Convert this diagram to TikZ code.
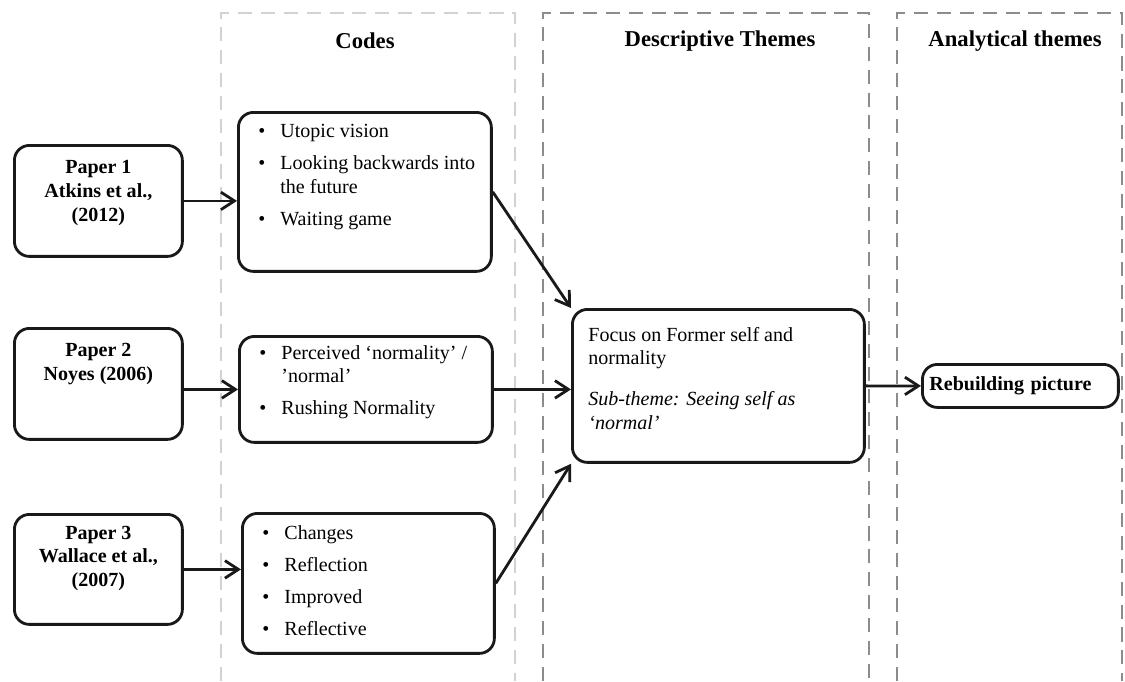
\documentclass[tikz,border=0pt]{standalone}
\usepackage{fontspec}
\setmainfont{Liberation Serif}
\usetikzlibrary{arrows.meta}

\newenvironment{codelist}{\begin{list}{\textbullet}{%
  \setlength{\leftmargin}{0.84cm}\setlength{\labelsep}{0.3cm}%
  \setlength{\labelwidth}{0.54cm}\setlength{\itemsep}{4.5pt}%
  \setlength{\topsep}{0pt}\setlength{\partopsep}{0pt}\setlength{\parsep}{0pt}%
  \setlength{\itemindent}{0pt}\setlength{\rightmargin}{0pt}}}{\end{list}}
\newcommand{\boxtext}[3]{\parbox[c][#2][t]{#1}{#3}}

\begin{document}
\begin{tikzpicture}[x=0.02cm,y=-0.02cm,
  font=\fontsize{11.4}{13.6}\selectfont,
  every node/.style={inner sep=0pt},
  rbox/.style={draw=black!90, line width=1.6pt, rounded corners=0.3cm, anchor=north west},
  col/.style={line width=1.3pt, dash pattern=on 8pt off 5pt},
  link/.style={draw=black!90, line width=1.6pt, -{Straight Barb[length=2.7mm,width=3.5mm]}},
  title/.style={font=\fontsize{12.9}{15}\selectfont\bfseries}]
\useasboundingbox (0,0) rectangle (1125,681);

\draw[col, draw=gray!35] (221,681) -- (221,13) -- (515,13) -- (515,681);
\draw[col, draw=black!45] (543,681) -- (543,13) -- (869,13) -- (869,681);
\draw[col, draw=black!45] (897,681) -- (897,13) -- (1122,13) -- (1122,681);

\node[title] (codesT) at (365,41) {Codes};
\node[title] (descT) at (720,41) {Descriptive Themes};
\node[title] (analT) at (1015,41) {Analytical themes};

\node[rbox] (p1) at (13,144) {\boxtext{3.36cm}{2.22cm}{\centering\bfseries\vspace*{8.5pt}Paper 1\\ Atkins et al.,\\ (2012)}};
\node[rbox] (p2) at (13,327) {\boxtext{3.36cm}{2.22cm}{\centering\bfseries\vspace*{8.5pt}Paper 2\\ Noyes (2006)}};
\node[rbox] (p3) at (13,513) {\boxtext{3.36cm}{2.2cm}{\centering\bfseries\vspace*{6.5pt}Paper 3\\ Wallace et al.,\\ (2007)}};

\node[rbox] (c1) at (237,111) {\boxtext{5.06cm}{3.18cm}{\raggedright\vspace*{7pt}\begin{codelist}
  \item Utopic vision
  \item Looking backwards into\newline the future
  \item Waiting game
\end{codelist}}};
\node[rbox] (c2) at (238,335) {\boxtext{5.06cm}{2.12cm}{\raggedright\vspace*{5pt}\begin{codelist}
  \item Perceived `normality' /\newline 'normal'
  \item Rushing Normality
\end{codelist}}};
\node[rbox] (c3) at (241,512) {\boxtext{5.04cm}{2.8cm}{\raggedright\vspace*{7pt}\begin{codelist}
  \item Changes
  \item Reflection
  \item Improved
  \item Reflective
\end{codelist}}};

\node[rbox] (th) at (571,308) {\boxtext{5.84cm}{3.06cm}{\raggedright\leftskip=0.32cm\vspace*{10pt}Focus on Former self and\newline normality\par
  \vspace{9.7pt}\textit{Sub-theme: Seeing self as\newline `normal'}}};

\node[rbox, minimum height=0.86cm, text width=3.64cm, inner xsep=0.14cm, align=left,
  font=\fontsize{11.4}{13.6}\selectfont\bfseries] (rb) at (921,363) {Rebuilding picture};

\draw[link] (p1.east) -- (p1.east -| c1.west);
\draw[link] (c2.west -| p2.east) -- (c2.west);
\draw[link] (p3.east) -- (p3.east -| c3.west);
\draw[link] (c1.east) -- (th.north west);
\draw[link] (c2.east) -- (c2.east -| th.west);
\draw[link] (c3.east) -- (th.south west);
\draw[link] (th.east) -- (rb.west);
\end{tikzpicture}
\end{document}
